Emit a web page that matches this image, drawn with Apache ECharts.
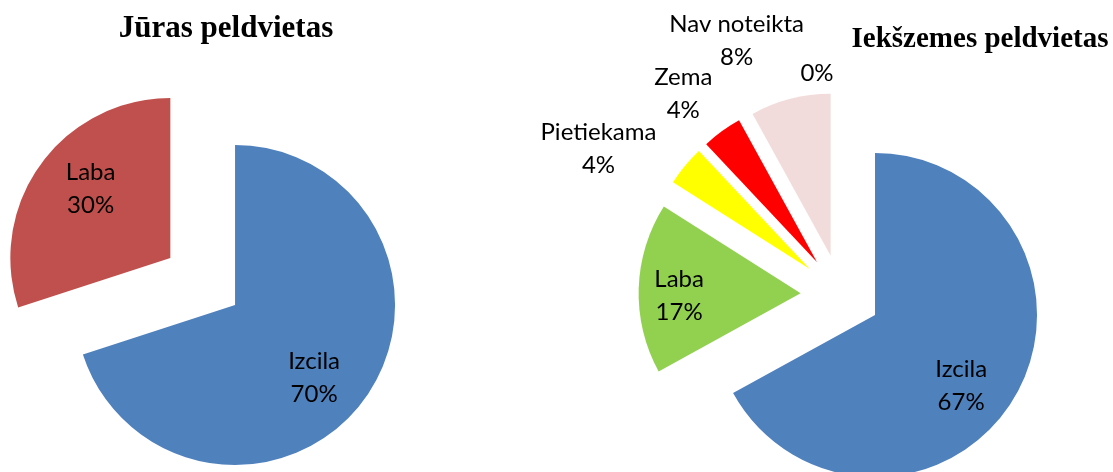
<!DOCTYPE html>
<html>
<head>
<meta charset="utf-8">
<script src="https://cdn.jsdelivr.net/npm/echarts@6/dist/echarts.min.js"></script>
<style>
  html, body { margin: 0; padding: 0; background: #fff; }
  #chart { width: 1113px; height: 472px; }
</style>
</head>
<body>
<div id="chart"></div>
<script>
// Jūras peldvietas
var leftNames = ['Izcila', 'Laba'];
var leftValues = [70, 30];
var leftColors = ['#4F81BD', '#C0504D'];

// Iekšzemes peldvietas (last slice has no name, only "0%")
var rightNames = ['Izcila', 'Laba', 'Pietiekama', 'Zema', 'Nav noteikta', ''];
var rightValues = [67, 17, 4, 4, 8, 0];
var rightColors = ['#4F81BD', '#92D050', '#FFFF00', '#FF0000', '#F2DCDB', '#F2DCDB'];

// where excel put the labels: [radius factor from slice tip, angle shift in deg]
var leftLabelPos = [[0.67, 6.5], [0.66, 5]];
var rightLabelPos = [[0.69, 9], [0.75, -3], [1.5, -10], [1.33, -2.4], [1.45, -9.2], [1.13, -7.4]];

var OFFSET = 40;
var pies = [
  { title: 'Jūras peldvietas', center: [202.7, 281.5], radius: 160,
    names: leftNames, values: leftValues, colors: leftColors, labelPos: leftLabelPos },
  { title: 'Iekšzemes peldvietas', center: [840.6, 294.6], radius: 162,
    names: rightNames, values: rightValues, colors: rightColors, labelPos: rightLabelPos }
];

// label centre, worked out from the slice angle (same start/direction as the pie)
function labelPoint(pie, idx) {
  var total = 0, start = 0;
  pie.values.forEach(function (v, i) {
    total += v;
    if (i < idx) start += v;
  });
  var mid = (start + pie.values[idx] / 2) / total * 360;
  var rad = mid * Math.PI / 180;
  var tipX = pie.center[0] + OFFSET * Math.sin(rad);
  var tipY = pie.center[1] - OFFSET * Math.cos(rad);
  var k = pie.labelPos[idx][0];
  var a = (mid + pie.labelPos[idx][1]) * Math.PI / 180;
  return [tipX + k * pie.radius * Math.sin(a), tipY - k * pie.radius * Math.cos(a)];
}

var labels = [];
pies.forEach(function (pie) {
  pie.values.forEach(function (v, i) {
    var pt = labelPoint(pie, i);
    labels.push({
      type: 'text',
      x: pt[0],
      y: pt[1],
      z: 100,
      silent: true,
      style: {
        text: (pie.names[i] ? pie.names[i] + '\n' : '') + v + '%',
        fontFamily: 'Lato',
        fontSize: 24,
        lineHeight: 33,
        fill: '#000',
        align: 'center',
        verticalAlign: 'middle'
      }
    });
  });
});

var chart = echarts.init(document.getElementById('chart'), null, { renderer: 'canvas' });

var option = {
  animation: false,
  backgroundColor: '#fff',
  title: [{
    text: pies[0].title,
    left: 226,
    top: 13,
    padding: 0,
    textAlign: 'center',
    textStyle: { fontFamily: 'Liberation Serif', fontWeight: 'bold', fontSize: 31, color: '#000' }
  }, {
    text: pies[1].title,
    left: 980,
    top: 25,
    padding: 0,
    textAlign: 'center',
    textStyle: { fontFamily: 'Liberation Serif', fontWeight: 'bold', fontSize: 29, color: '#000' }
  }],
  graphic: labels,
  series: pies.map(function (pie) {
    return {
      type: 'pie',
      z: 2,
      center: pie.center,
      radius: pie.radius,
      startAngle: 90,
      clockwise: true,
      selectedMode: 'multiple',
      selectedOffset: OFFSET,
      avoidLabelOverlap: false,
      itemStyle: { borderWidth: 0 },
      emphasis: { scale: false },
      label: { show: false },
      labelLine: { show: false },
      data: pie.values.map(function (v, i) {
        return { name: pie.names[i], value: v, selected: true, itemStyle: { color: pie.colors[i] } };
      })
    };
  })
};

chart.setOption(option);
</script>
</body>
</html>
